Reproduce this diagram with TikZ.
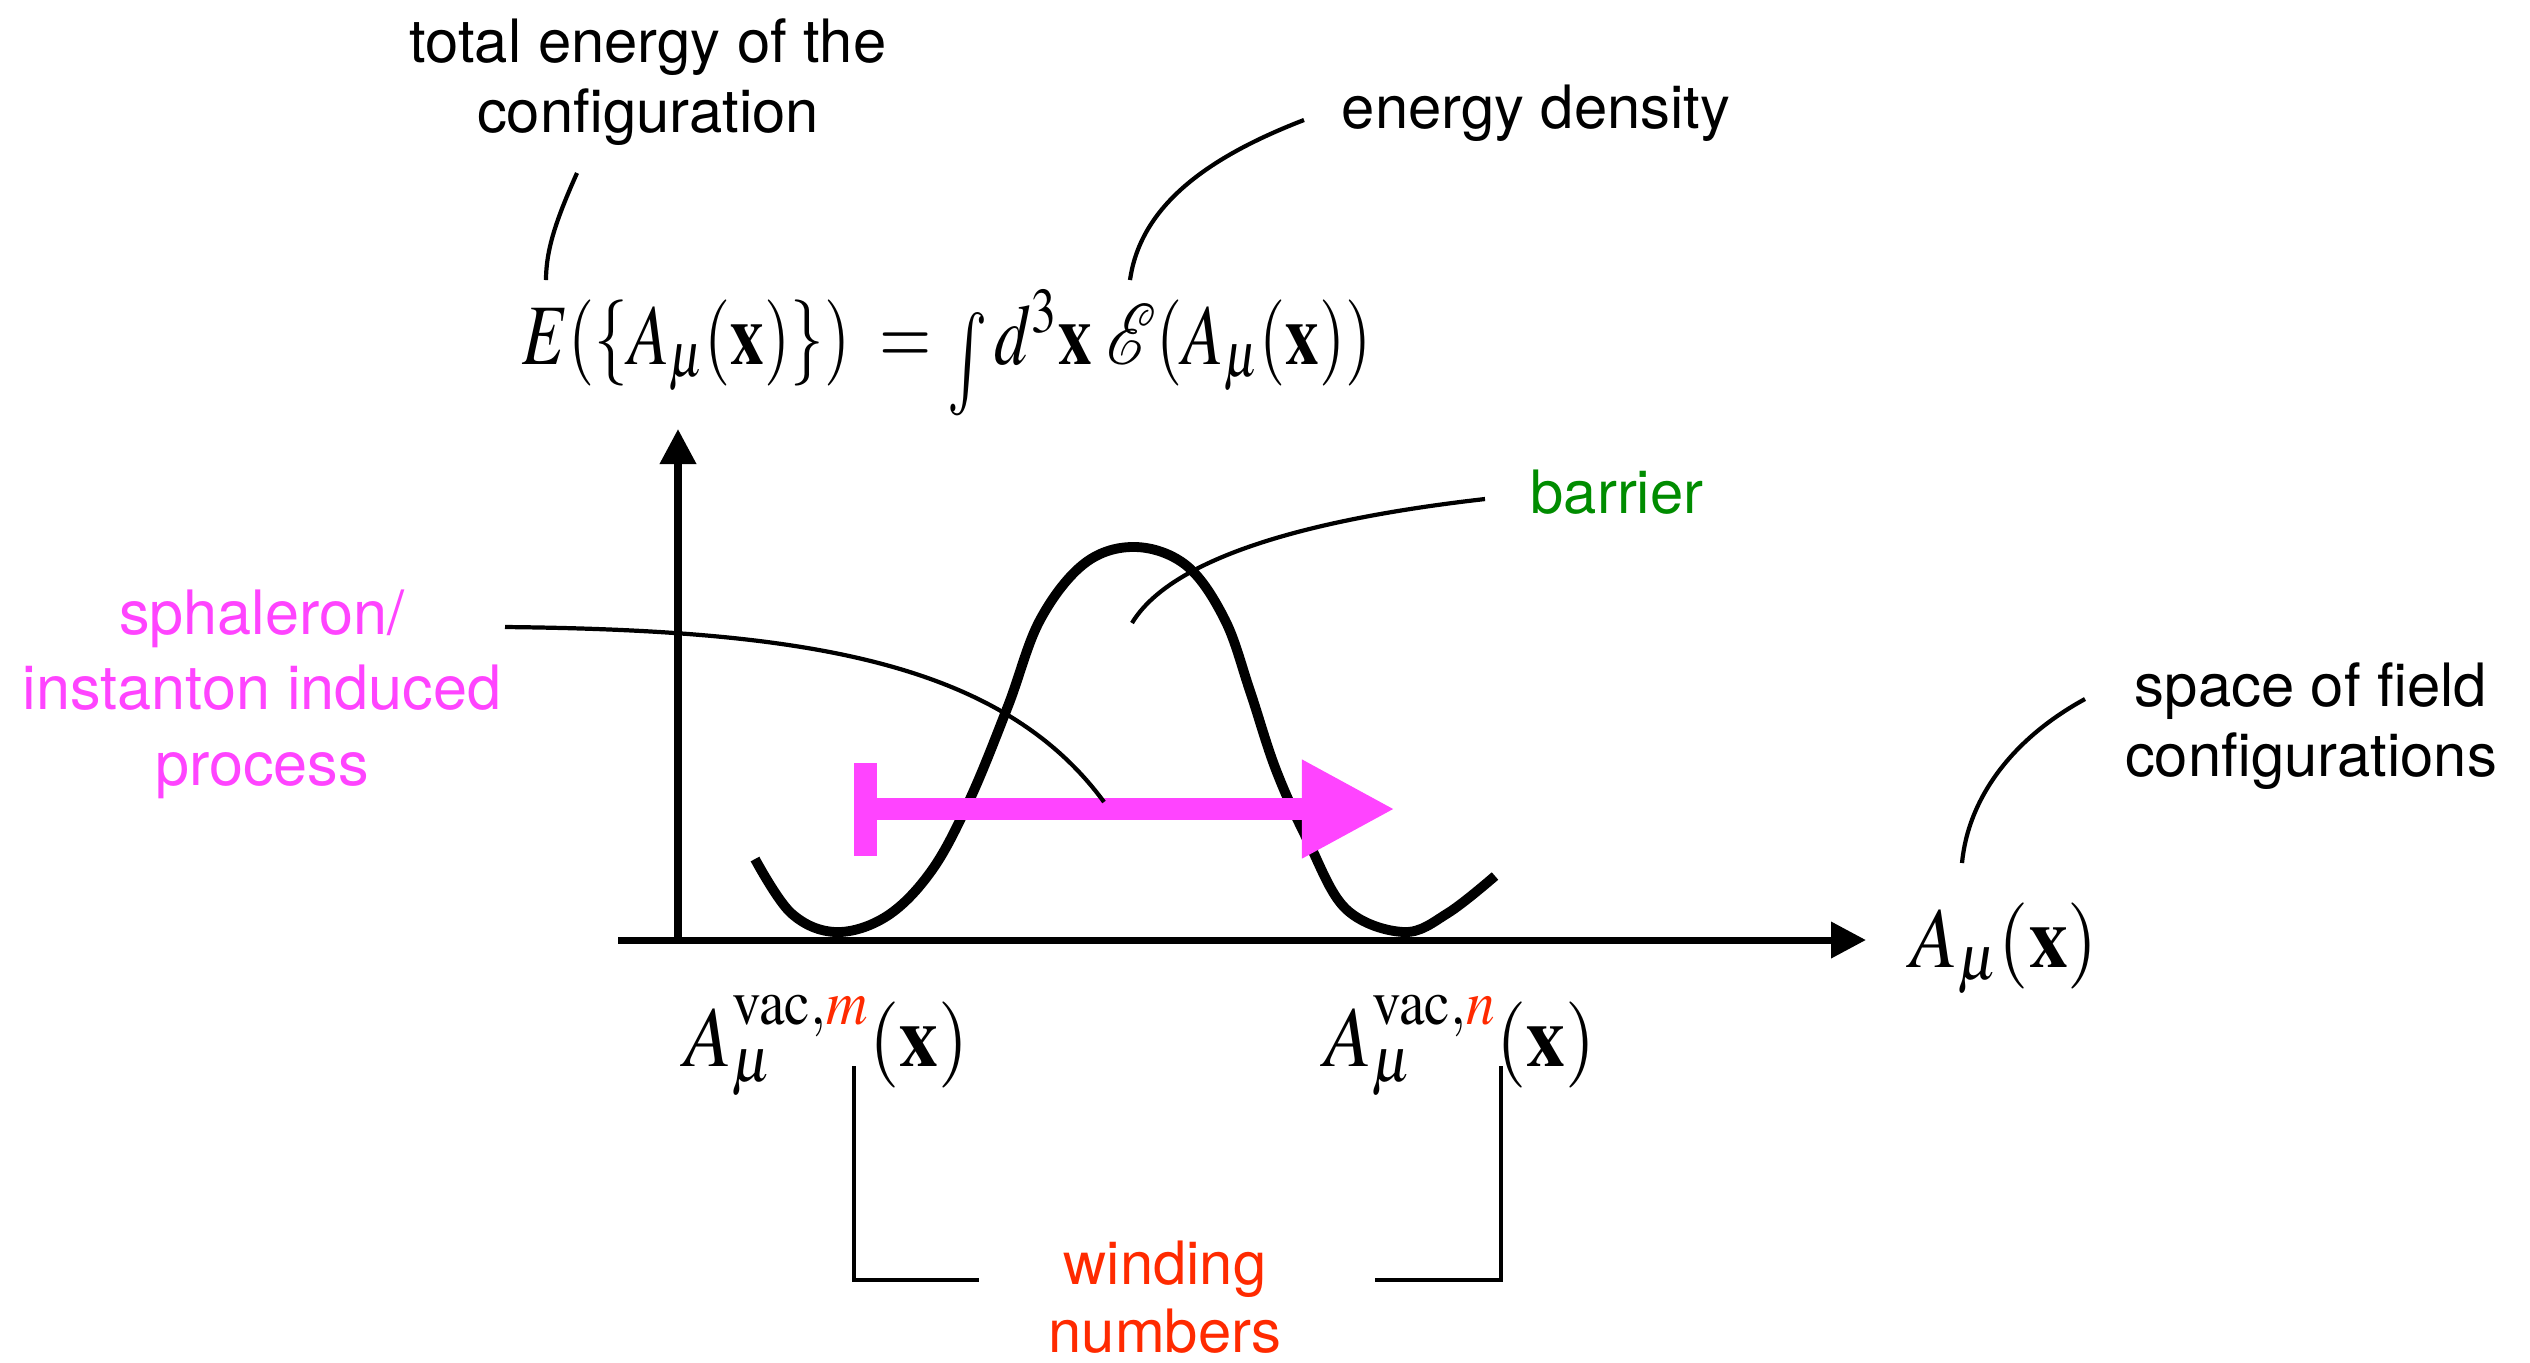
\documentclass[tikz,border=0pt]{standalone}
\usepackage{graphicx}
\usepackage{mathptmx}
\usepackage[no-math]{fontspec}
\setmainfont{TeX Gyre Heros}
\usetikzlibrary{arrows.meta}
\definecolor{ProcMagenta}{HTML}{FF44FF}
\definecolor{BarrierGreen}{HTML}{008C00}
\definecolor{WindRed}{HTML}{FF2A00}

\begin{document}
\begin{tikzpicture}[x=0.01cm,y=-0.01cm,
  lbl/.style={inner sep=0pt,font=\fontsize{17}{19.8}\selectfont,align=center},
  eq/.style={inner sep=0pt,font=\fontsize{24.5}{28}\selectfont},
  lead/.style={line width=1.2pt},
  axis/.style={line width=2pt,-{Triangle[length=0.35cm,width=0.35cm]}}]
  \useasboundingbox (0,0) rectangle (2530,1362);
  \coordinate (xL) at (618,940); \coordinate (xR) at (1866,940);
  \coordinate (yB) at (678,943); \coordinate (yT) at (678,429);
  \draw[axis] (xL)--(xR);
  \draw[axis] (yB)--(yT);
  \draw[line width=2.8pt] plot[smooth,tension=0.6] coordinates {(755,859) (791,913) (836,932) (887,916) (932,870) (970,799)
    (1008,706) (1040,620) (1085,563) (1136,547) (1187,566) (1225,620) (1250,691) (1276,770) (1308,841) (1346,909)
    (1404,932) (1448,913) (1495,876)};
  \coordinate (procS) at (854,809); \coordinate (procE) at (1395,809);
  \draw[ProcMagenta,line width=6.5pt,{Bar[width=0.93cm]}-{Triangle[length=0.93cm,width=0.92cm]}] (procS)--(procE);

  \node[lbl,anchor=north] (tot) at (648,18) {total energy of the\\configuration};
  \node[lbl,anchor=base] (den) at (1536,128) {energy density};
  \node[lbl,anchor=base,text=BarrierGreen] (bar) at (1617,513) {barrier};
  \node[lbl,anchor=north,text=ProcMagenta,font=\fontsize{17.4}{21.5}\selectfont] (sph) at (262,589) {sphaleron/\\instanton induced\\process};
  \node[lbl,anchor=north] (spc) at (2311,662) {space of field\\configurations};
  \node[lbl,anchor=north,text=WindRed,font=\fontsize{17}{19.3}\selectfont] (wind) at (1165,1240) {winding\\numbers};

  \node[eq,anchor=base west] (energy) at (522,364)
    {\scalebox{0.78}[1]{$E(\{A_\mu(\mathbf{x})\})\;=\mathop{\raisebox{-0.3em}{\scalebox{1}[1.2]{$\int$}}} d^3\mathbf{x}\;\mathcal{E}(A_\mu(\mathbf{x}))$}};
  \node[eq,anchor=base west] (field) at (1910,967) {\scalebox{0.9}[1]{$A_\mu(\mathbf{x})$}};
  \node[eq,anchor=base west] (vacm) at (684,1066) {\scalebox{0.9}[1]{$A_\mu^{\mathrm{vac},\textcolor{WindRed}{m}}(\mathbf{x})$}};
  \node[eq,anchor=base west] (vacn) at (1324,1066) {\scalebox{0.9}[1]{$A_\mu^{\mathrm{vac},\textcolor{WindRed}{n}}(\mathbf{x})$}};

  \coordinate (totL) at (577,173); \coordinate (totT) at (546,280);
  \coordinate (denL) at (1304,120); \coordinate (denT) at (1130,280);
  \coordinate (barL) at (1485,499); \coordinate (barT) at (1132,623);
  \coordinate (sphL) at (505,627); \coordinate (sphT) at (1104,802);
  \coordinate (spcL) at (2085,699); \coordinate (spcT) at (1962,863);
  \draw[lead] (totL) .. controls (556,220) and (546,250) .. (totT);
  \draw[lead] (denL) .. controls (1200,160) and (1140,210) .. (denT);
  \draw[lead] (barL) .. controls (1300,520) and (1170,560) .. (barT);
  \draw[lead] (sphL) .. controls (800,630) and (1000,660) .. (sphT);
  \draw[lead] (spcL) .. controls (2010,740) and (1968,800) .. (spcT);

  \coordinate (wmT) at (854,1066); \coordinate (wmE) at (979,1280);
  \coordinate (wnT) at (1501,1066); \coordinate (wnE) at (1375,1280);
  \draw[lead] (wmT) |- (wmE);
  \draw[lead] (wnT) |- (wnE);
\end{tikzpicture}
\end{document}
